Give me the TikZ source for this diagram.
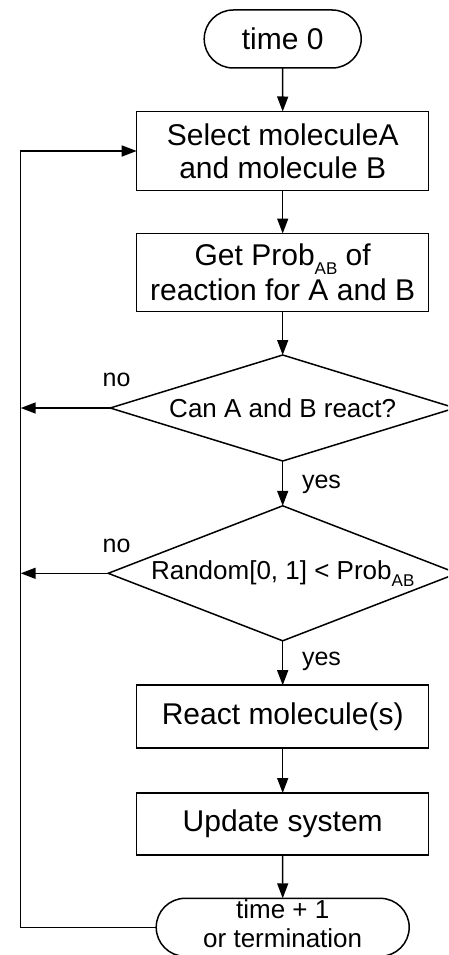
\documentclass[tikz,border=0pt]{standalone}
\usepackage{fontspec}
\setmainfont{Liberation Sans}
\usetikzlibrary{shapes.geometric,shapes.misc,arrows.meta}

% subscript set in a smaller size, lowered below the baseline
\newcommand{\lowsub}[2]{\raisebox{-#1pt}{\fontsize{17}{17}\selectfont #2}}

\begin{document}
\begin{tikzpicture}[x=1pt,y=-1pt,
  every node/.style={inner sep=0pt, outer sep=0pt},
  flow/.style={line width=1.5pt, draw=black},
  arr/.style={flow, -{Triangle[length=15pt,width=11pt]}},
  procbox/.style={draw, line width=1.5pt, rectangle, minimum width=292pt,
    align=center, font=\fontsize{30}{33}\selectfont},
  terminal/.style={draw, line width=1.5pt, rounded rectangle,
    align=center},
  decision/.style={draw, line width=1.5pt, diamond, align=center,
    font=\fontsize{26}{30}\selectfont},
  branch/.style={anchor=base west, font=\fontsize{25}{28}\selectfont}
]
\useasboundingbox (0,0) rectangle (448,955);
\clip (0,0) rectangle (448,955);

% main column of steps
\node[terminal, minimum width=157pt, minimum height=58pt,
      font=\fontsize{30}{33}\selectfont] (t0) at (282.7,39) {time 0};
\node[procbox, minimum height=79pt] (sel) at (282.7,151)
  {Select moleculeA\\and molecule B};
\node[procbox, minimum height=78pt] (get) at (282.7,272.5)
  {Get Prob\lowsub{9}{AB} of\\[2pt]reaction for A and B};
\node[decision, aspect=3.25, minimum width=345pt, minimum height=106pt] (d1)
  at (282.7,408) {Can A and B react?};
\node[decision, aspect=2.6, minimum width=349pt, minimum height=135pt] (d2)
  at (282.7,573.3) {Random[0, 1] < Prob\lowsub{7}{AB}};
\node[procbox, minimum height=63pt] (react) at (282.7,716.7)
  {React molecule(s)};
\node[procbox, minimum height=62pt] (upd) at (282.7,824)
  {Update system};
\node[terminal, minimum width=253pt, minimum height=56pt,
      font=\fontsize{26}{29}\selectfont] (t1) at (282.7,927.3)
  {\raisebox{4pt}{\begin{tabular}{@{}c@{}}time + 1\\or termination\end{tabular}}};

% x position of the return line on the left
\coordinate (loopx) at (20.7,0);

% forward connectors
\draw[arr] (t0) -- (sel);
\draw[arr] (sel) -- (get);
\draw[arr] (get) -- (d1);
\draw[arr] (d1) -- (d2);
\draw[arr] (d2) -- (react);
\draw[arr] (react) -- (upd);
\draw[arr] (upd) -- (t1);

% "no" branches to the return line
\draw[arr] (d1.west) -- (d1.west -| loopx);
\draw[arr] (d2.west) -- (d2.west -| loopx);

% return line back to the selection step
\draw[arr] (t1.west) -- (t1.west -| loopx) |- (sel.west);

% branch labels
\node[branch] (no1) at (102.7,386.7) {no};
\node[branch] (no2) at (102.7,552.7) {no};
\node[branch] (yes1) at (302,488) {yes};
\node[branch] (yes2) at (302,665) {yes};
\end{tikzpicture}
\end{document}
